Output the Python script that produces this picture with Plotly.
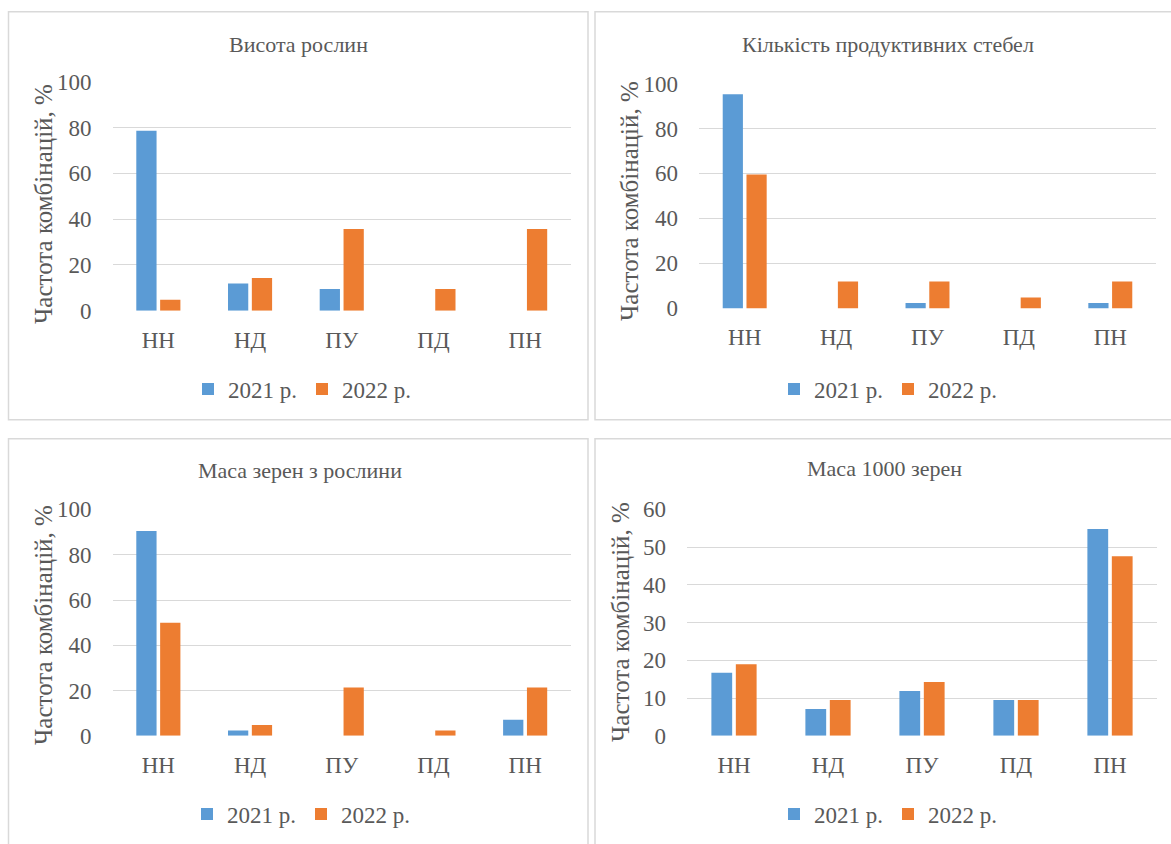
import plotly.graph_objects as go

W, H = 1171, 844

categories = ["НН", "НД", "ПУ", "ПД", "ПН"]
series_names = ["2021 р.", "2022 р."]

titles = ["Висота рослин", "Кількість продуктивних стебел",
          "Маса зерен з рослини", "Маса 1000 зерен"]
y_title = "Частота комбінацій, %"

# values per panel
height_2021 = [78.6, 11.9, 9.5, 0, 0]
height_2022 = [4.8, 14.3, 35.7, 9.5, 35.7]

stems_2021 = [95.2, 0, 2.4, 0, 2.4]
stems_2022 = [59.5, 11.9, 11.9, 4.8, 11.9]

grain_2021 = [90.5, 2.4, 0, 0, 7.1]
grain_2022 = [50.0, 4.8, 21.4, 2.4, 21.4]

tkw_2021 = [16.7, 7.1, 11.9, 9.5, 54.8]
tkw_2022 = [19.0, 9.5, 14.3, 9.5, 47.6]

y_ranges = [[0, 100], [0, 100], [0, 100], [0, 60]]
y_dticks = [20, 20, 20, 10]

panel_data = [(height_2021, height_2022), (stems_2021, stems_2022),
              (grain_2021, grain_2022), (tkw_2021, tkw_2022)]

BLUE = "#5B9BD5"
ORANGE = "#ED7D31"
TXT = "#595959"
GRID = "#d9d9d9"
FONT = "Liberation Serif"


def fy(y):
    # convert a target screen y (px) into a paper fraction
    return 1 - ((y - 9.2) / 0.975) / H


# layout geometry in target pixels
plot_px = [  # x0, x1, ytop, ybottom
    (112.5, 571, 79.3, 309.3),
    (699, 1156, 81, 307),
    (112.5, 571, 509, 736.5),
    (687, 1157, 509, 736.5),
]
panel_px = [  # border rectangles
    (8.5, 9, 588, 419),
    (595, 9, 1176, 419),
    (8.5, 438, 588, 880),
    (595, 438, 1176, 880),
]
title_px = [(298, 42), (888, 42), (300, 470), (884, 468)]
ytitle_px = [(44, 202), (630, 199), (44, 625), (621, 622)]
legend_px = [(302, 388), (888, 388), (301, 815), (888, 815)]

fig = go.Figure()
legend_names = ["legend", "legend2", "legend3", "legend4"]

for i, (d21, d22) in enumerate(panel_data):
    suffix = "" if i == 0 else str(i + 1)
    for name, vals, col in [(series_names[0], d21, BLUE), (series_names[1], d22, ORANGE)]:
        fig.add_trace(go.Bar(
            x=categories, y=vals, name=name, marker_color=col,
            marker_line_width=0,
            xaxis="x" + suffix, yaxis="y" + suffix,
            legend=legend_names[i], showlegend=True,
            hoverinfo="x+y+name",
        ))

layout = dict(
    width=W, height=H,
    margin=dict(l=0, r=0, t=0, b=0),
    paper_bgcolor="white", plot_bgcolor="white",
    barmode="group", bargap=0.48, bargroupgap=0.15,
    font=dict(family=FONT, color=TXT),
    shapes=[], annotations=[],
)

for i in range(4):
    suffix = "" if i == 0 else str(i + 1)
    x0, x1, yt, yb = plot_px[i]
    layout["xaxis" + suffix] = dict(
        domain=[x0 / W, x1 / W], anchor="y" + suffix,
        showgrid=False, showline=False, zeroline=False,
        ticks="", tickfont=dict(family=FONT, size=23, color=TXT),
        ticklabelstandoff=13, fixedrange=True,
    )
    layout["yaxis" + suffix] = dict(
        domain=[fy(yb), fy(yt)], anchor="x" + suffix,
        range=y_ranges[i], dtick=y_dticks[i], tick0=0,
        showgrid=True, gridcolor=GRID, gridwidth=1,
        showline=False, zeroline=False,
        ticks="", tickfont=dict(family=FONT, size=23, color=TXT),
        ticklabelstandoff=20, fixedrange=True,
    )
    px0, py0, px1, py1 = panel_px[i]
    layout["shapes"].append(dict(
        type="rect", xref="paper", yref="paper",
        x0=px0 / W, x1=px1 / W, y0=fy(py1), y1=fy(py0),
        line=dict(color=GRID, width=1.5), fillcolor="rgba(0,0,0,0)", layer="below",
    ))
    tx, ty = title_px[i]
    layout["annotations"].append(dict(
        text=titles[i], xref="paper", yref="paper",
        x=tx / W, y=fy(ty), xanchor="center", yanchor="middle",
        showarrow=False, font=dict(family=FONT, size=22, color=TXT),
    ))
    ax, ay = ytitle_px[i]
    layout["annotations"].append(dict(
        text=y_title, xref="paper", yref="paper",
        x=ax / W, y=fy(ay), xanchor="center", yanchor="middle",
        textangle=-90, showarrow=False,
        font=dict(family=FONT, size=25, color=TXT),
    ))
    lx, ly = legend_px[i]
    layout[legend_names[i]] = dict(
        x=lx / W, y=fy(ly), xanchor="center", yanchor="middle",
        orientation="h", bgcolor="rgba(0,0,0,0)",
        font=dict(family=FONT, size=23, color=TXT),
        itemclick=False, itemdoubleclick=False,
    )

fig.update_layout(**layout)
fig.write_html(
    "out.html",
    config={"displayModeBar": False},
    post_script="document.body.style.margin='0';document.body.style.overflow='hidden';",
)
